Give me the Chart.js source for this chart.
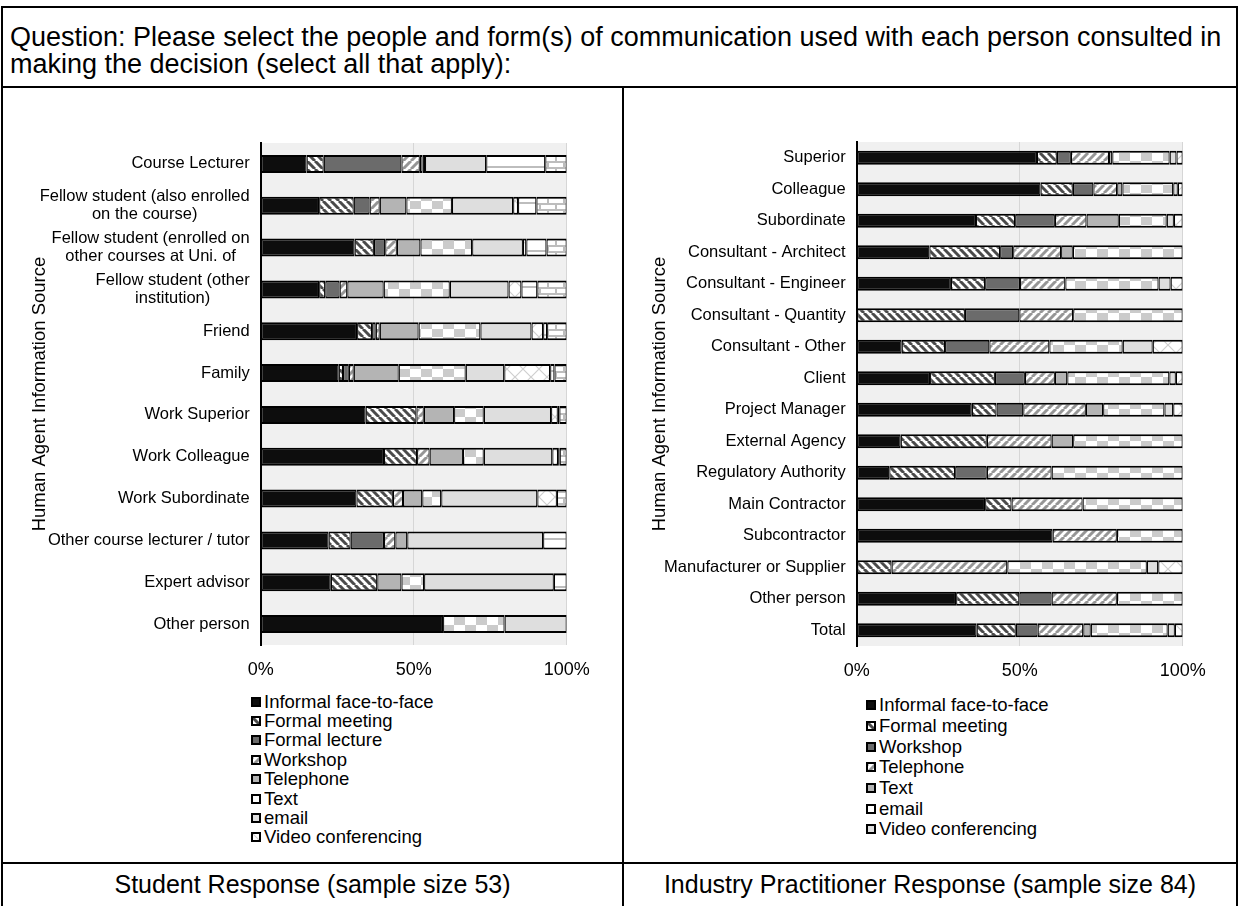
<!DOCTYPE html>
<html>
<head>
<meta charset="utf-8">
<script src="https://cdn.jsdelivr.net/npm/chart.js@4.4.0/dist/chart.umd.min.js"></script>
<style>
  html, body { margin: 0; padding: 0; background: #fff; }
  body { width: 1240px; height: 906px; position: relative; overflow: hidden;
         font-family: 'Liberation Sans', Arial, sans-serif; color: #000; }
  .rule { position: absolute; background: #000; }
  #question { position: absolute; left: 10px; top: 24px; font-size: 27px; line-height: 27px; white-space: nowrap; }
  canvas { position: absolute; }
  .legend { position: absolute; font-size: 18.5px; }
  .legend .item { display: flex; align-items: center; white-space: nowrap; }
  .legend .sw { width: 10px; height: 10px; box-sizing: border-box; border: 2px solid #000; margin-right: 3px; flex: none; }
  .caption { position: absolute; top: 870px; font-size: 25px; line-height: 28px; text-align: center; white-space: nowrap; }
</style>
</head>
<body>
<div class="rule" style="left:1px; top:6px; width:1237px; height:2px"></div>
<div class="rule" style="left:1px; top:6px; width:2px; height:900px"></div>
<div class="rule" style="left:1236px; top:6px; width:2px; height:900px"></div>
<div class="rule" style="left:1px; top:86px; width:1237px; height:2px"></div>
<div class="rule" style="left:622px; top:86px; width:2px; height:820px"></div>
<div class="rule" style="left:1px; top:862px; width:1237px; height:2px"></div>

<div id="question">Question: Please select the people and form(s) of communication used with each person consulted in<br>making the decision (select all that apply):</div>

<canvas id="studentChart" width="618" height="600" style="left:3px; top:89px"></canvas>
<canvas id="industryChart" width="612" height="600" style="left:624px; top:89px"></canvas>

<div id="studentLegend" class="legend" style="left:251px; top:692px"></div>
<div id="industryLegend" class="legend" style="left:866px; top:695px"></div>

<div class="caption" style="left:3px; width:619px">Student Response (sample size 53)</div>
<div class="caption" style="left:624px; width:612px">Industry Practitioner Response (sample size 84)</div>

<script>
// Student survey: share of each communication form per person consulted (%)
const studentSources = [
  'Course Lecturer',
  ['Fellow student (also enrolled', 'on the course)'],
  ['Fellow student (enrolled on', 'other courses at Uni. of'],
  ['Fellow student (other', 'institution)'],
  'Friend', 'Family', 'Work Superior', 'Work Colleague', 'Work Subordinate',
  'Other course lecturer / tutor', 'Expert advisor', 'Other person'
];
const stuInformal   = [15.0, 19.1, 30.7, 19.1, 31.5, 25.5, 34.3, 40.3, 31.3, 22.2, 22.9, 59.6];
const stuMeeting    = [5.6, 11.3, 6.3, 2.0, 4.9, 1.4, 16.6, 10.8, 11.9, 7.2, 15.2, 0];
const stuLecture    = [25.4, 5.2, 3.7, 4.7, 1.2, 1.9, 0, 0, 0, 10.9, 0, 0];
const stuWorkshop   = [6.0, 3.3, 3.8, 2.5, 1.3, 1.6, 2.4, 4.1, 3.3, 3.7, 0, 0];
const stuTelephone  = [0.9, 8.7, 7.7, 11.9, 12.7, 14.7, 9.9, 10.9, 6.3, 3.9, 7.9, 0];
const stuText       = [0.8, 14.9, 16.9, 21.6, 20.2, 21.9, 9.7, 6.8, 6.2, 0, 7.4, 20.1];
const stuEmail      = [20.0, 20.0, 16.6, 19.2, 16.7, 12.6, 22.0, 22.4, 31.4, 44.4, 42.4, 20.3];
const stuVideo      = [0, 1.6, 1.1, 4.2, 3.8, 15.0, 2.2, 1.9, 6.4, 0, 0, 0];
const stuSocial     = [19.3, 6.0, 6.6, 5.2, 1.3, 1.4, 0.5, 0.5, 0, 7.7, 4.2, 0];
const stuOther      = [7.0, 9.9, 6.6, 9.6, 6.4, 4.0, 2.4, 2.3, 3.2, 0, 0, 0];

// Industry survey (%)
const industrySources = [
  'Superior', 'Colleague', 'Subordinate', 'Consultant - Architect', 'Consultant - Engineer',
  'Consultant - Quantity', 'Consultant - Other', 'Client', 'Project Manager', 'External Agency',
  'Regulatory Authority', 'Main Contractor', 'Subcontractor', 'Manufacturer or Supplier',
  'Other person', 'Total'
];
const indInformal  = [55.3, 56.4, 36.6, 22.3, 28.9, 0, 13.8, 22.5, 35.3, 13.5, 10.0, 39.4, 60.1, 0, 30.5, 36.8];
const indMeeting   = [6.1, 9.9, 12.0, 21.7, 10.5, 33.2, 13.3, 19.9, 7.6, 26.4, 20.2, 8.1, 0, 10.7, 19.4, 12.0];
const indWorkshop  = [4.3, 6.3, 12.2, 4.0, 10.7, 16.7, 13.6, 9.2, 8.2, 0, 9.7, 0, 0, 0, 9.9, 6.7];
const indTelephone = [11.7, 7.3, 9.7, 14.7, 13.9, 16.5, 18.4, 9.2, 19.2, 19.9, 19.9, 21.8, 19.7, 35.5, 20.0, 14.0];
const indText      = [1.0, 1.6, 9.9, 3.6, 0, 0, 0, 3.8, 5.3, 6.6, 0, 0, 0, 0, 0, 2.3];
const indEmail     = [17.6, 15.6, 14.7, 33.7, 28.6, 33.6, 22.5, 31.3, 18.8, 33.6, 40.2, 30.7, 20.2, 42.8, 20.2, 23.6];
const indVideo     = [2.1, 1.4, 2.2, 0, 3.7, 0, 9.2, 2.0, 2.7, 0, 0, 0, 0, 3.5, 0, 2.2];
const indOther     = [1.9, 1.5, 2.7, 0, 3.7, 0, 9.2, 2.1, 2.9, 0, 0, 0, 0, 7.5, 0, 2.4];

const FONT = "'Liberation Sans', Arial, sans-serif";

// small repeating tiles used as bar fills
function makeTile(kind) {
  const c = document.createElement('canvas');
  const g = c.getContext('2d');
  const size = { back: [8, 8], fwd: [8, 8], check: [22, 16], cross: [16, 16], hline: [8, 12], brick: [16, 12] }[kind];
  c.width = size[0]; c.height = size[1];
  g.fillStyle = '#fff';
  g.fillRect(0, 0, c.width, c.height);
  if (kind === 'back' || kind === 'fwd') {
    g.strokeStyle = kind === 'back' ? '#4a4a4a' : '#969696';
    g.lineWidth = 3;
    for (const dx of [-8, 0, 8]) {
      g.beginPath();
      if (kind === 'back') { g.moveTo(dx, 0); g.lineTo(dx + 8, 8); }
      else { g.moveTo(dx, 8); g.lineTo(dx + 8, 0); }
      g.stroke();
    }
  } else if (kind === 'check') {
    g.fillStyle = '#cbcbcb';
    g.fillRect(11, 0, 11, 8);
    g.fillRect(0, 8, 11, 8);
  } else if (kind === 'cross') {
    g.strokeStyle = '#cfcfcf';
    g.lineWidth = 1.2;
    g.beginPath();
    g.moveTo(0, 0); g.lineTo(16, 16);
    g.moveTo(16, 0); g.lineTo(0, 16);
    g.stroke();
  } else if (kind === 'hline') {
    g.fillStyle = '#bdbdbd';
    g.fillRect(0, 5, 8, 2);
  } else if (kind === 'brick') {
    g.fillStyle = '#bdbdbd';
    g.fillRect(0, 0, 16, 2);
    g.fillRect(0, 6, 16, 2);
    g.fillRect(0, 0, 2, 6);
    g.fillRect(8, 6, 2, 6);
  }
  return c;
}

const tiles = {};
['back', 'fwd', 'check', 'cross', 'hline', 'brick'].forEach(k => tiles[k] = makeTile(k));

function fillFor(ctx, style) {
  if (style[0] === '#') return style;
  return ctx.createPattern(tiles[style], 'repeat');
}

function buildDatasets(ctx, series, barPct) {
  return series.map(s => ({
    label: s.label,
    data: s.data,
    backgroundColor: fillFor(ctx, s.style),
    fillStyle: s.style,
    borderColor: '#000',
    borderWidth: { top: 2, bottom: 2, left: 1.2, right: 1.2 },
    borderSkipped: false,
    barPercentage: barPct,
    categoryPercentage: 1
  }));
}

// grey plot background
const plotBackground = {
  id: 'plotBackground',
  beforeDraw(chart) {
    const { ctx, chartArea: a } = chart;
    ctx.save();
    ctx.fillStyle = '#f0f0f0';
    ctx.fillRect(a.left, a.top, a.right - a.left, a.bottom - a.top);
    ctx.restore();
  }
};

// category names: right aligned block, lines centred within the block
const categoryLabels = {
  id: 'categoryLabels',
  afterDraw(chart) {
    const { ctx } = chart;
    const y = chart.scales.y;
    const lineH = 18;
    ctx.save();
    ctx.font = '16.5px ' + FONT;
    ctx.fillStyle = '#000';
    ctx.textBaseline = 'middle';
    ctx.textAlign = 'center';
    chart.data.labels.forEach((label, i) => {
      const lines = Array.isArray(label) ? label : [label];
      const w = Math.max(...lines.map(t => ctx.measureText(t).width));
      const cx = y.right - 11 - w / 2;
      const cy = y.getPixelForValue(i);
      lines.forEach((t, j) => ctx.fillText(t, cx, cy + (j - (lines.length - 1) / 2) * lineH));
    });
    ctx.restore();
  }
};

function makeChart(canvasId, labels, series, opts) {
  const canvas = document.getElementById(canvasId);
  const ctx = canvas.getContext('2d');
  return new Chart(ctx, {
    type: 'bar',
    data: { labels: labels, datasets: buildDatasets(ctx, series, opts.barPct) },
    options: {
      indexAxis: 'y',
      responsive: false,
      animation: false,
      layout: { padding: opts.padding },
      plugins: { legend: { display: false }, tooltip: { enabled: false } },
      scales: {
        x: {
          stacked: true,
          min: 0,
          max: 100,
          ticks: { stepSize: 50, callback: v => v + '%', color: '#000', font: { size: 18, family: FONT }, padding: 14 },
          grid: {
            color: c => (c.tick && c.tick.value === 0) ? 'rgba(0,0,0,0)' : '#d6d6d6',
            drawTicks: false,
            lineWidth: 1
          },
          border: { display: false },
          afterFit: s => { s.height = opts.xHeight; }
        },
        y: {
          stacked: true,
          ticks: { display: false },
          grid: { display: false },
          border: { display: true, color: '#000', width: 2 },
          title: {
            display: true,
            text: 'Human Agent Information Source',
            color: '#000',
            font: { size: 18.5, family: FONT },
            padding: { top: 4, bottom: 4 }
          },
          afterFit: s => { s.width = opts.yWidth; }
        }
      }
    },
    plugins: [plotBackground, categoryLabels]
  });
}

function buildLegend(elId, chart, count, rowH) {
  const box = document.getElementById(elId);
  chart.data.datasets.slice(0, count).forEach(ds => {
    const row = document.createElement('div');
    row.className = 'item';
    row.style.height = rowH + 'px';
    const sw = document.createElement('span');
    sw.className = 'sw';
    if (ds.fillStyle[0] === '#') sw.style.background = ds.fillStyle;
    else sw.style.backgroundImage = 'url(' + tiles[ds.fillStyle].toDataURL() + ')';
    row.appendChild(sw);
    row.appendChild(document.createTextNode(ds.label));
    box.appendChild(row);
  });
}

const studentChart = makeChart('studentChart', studentSources, [
  { label: 'Informal face-to-face', data: stuInformal, style: '#0d0d0d' },
  { label: 'Formal meeting', data: stuMeeting, style: 'back' },
  { label: 'Formal lecture', data: stuLecture, style: '#6b6b6b' },
  { label: 'Workshop', data: stuWorkshop, style: 'fwd' },
  { label: 'Telephone', data: stuTelephone, style: '#b4b4b4' },
  { label: 'Text', data: stuText, style: 'check' },
  { label: 'email', data: stuEmail, style: '#dedede' },
  { label: 'Video conferencing', data: stuVideo, style: 'cross' },
  { label: 'Social media', data: stuSocial, style: 'hline' },
  { label: 'Other', data: stuOther, style: 'brick' }
], { barPct: 0.43, padding: { left: 22, right: 54.3, top: 54, bottom: 0 }, yWidth: 235.7, xHeight: 44 });

const industryChart = makeChart('industryChart', industrySources, [
  { label: 'Informal face-to-face', data: indInformal, style: '#0d0d0d' },
  { label: 'Formal meeting', data: indMeeting, style: 'back' },
  { label: 'Workshop', data: indWorkshop, style: '#6b6b6b' },
  { label: 'Telephone', data: indTelephone, style: 'fwd' },
  { label: 'Text', data: indText, style: '#b4b4b4' },
  { label: 'email', data: indEmail, style: 'check' },
  { label: 'Video conferencing', data: indVideo, style: '#dedede' },
  { label: 'Other', data: indOther, style: 'cross' }
], { barPct: 0.44, padding: { left: 21, right: 53.3, top: 53, bottom: 0 }, yWidth: 211.7, xHeight: 43 });

buildLegend('studentLegend', studentChart, 8, 19.4);
buildLegend('industryLegend', industryChart, 7, 20.7);
</script>
</body>
</html>
